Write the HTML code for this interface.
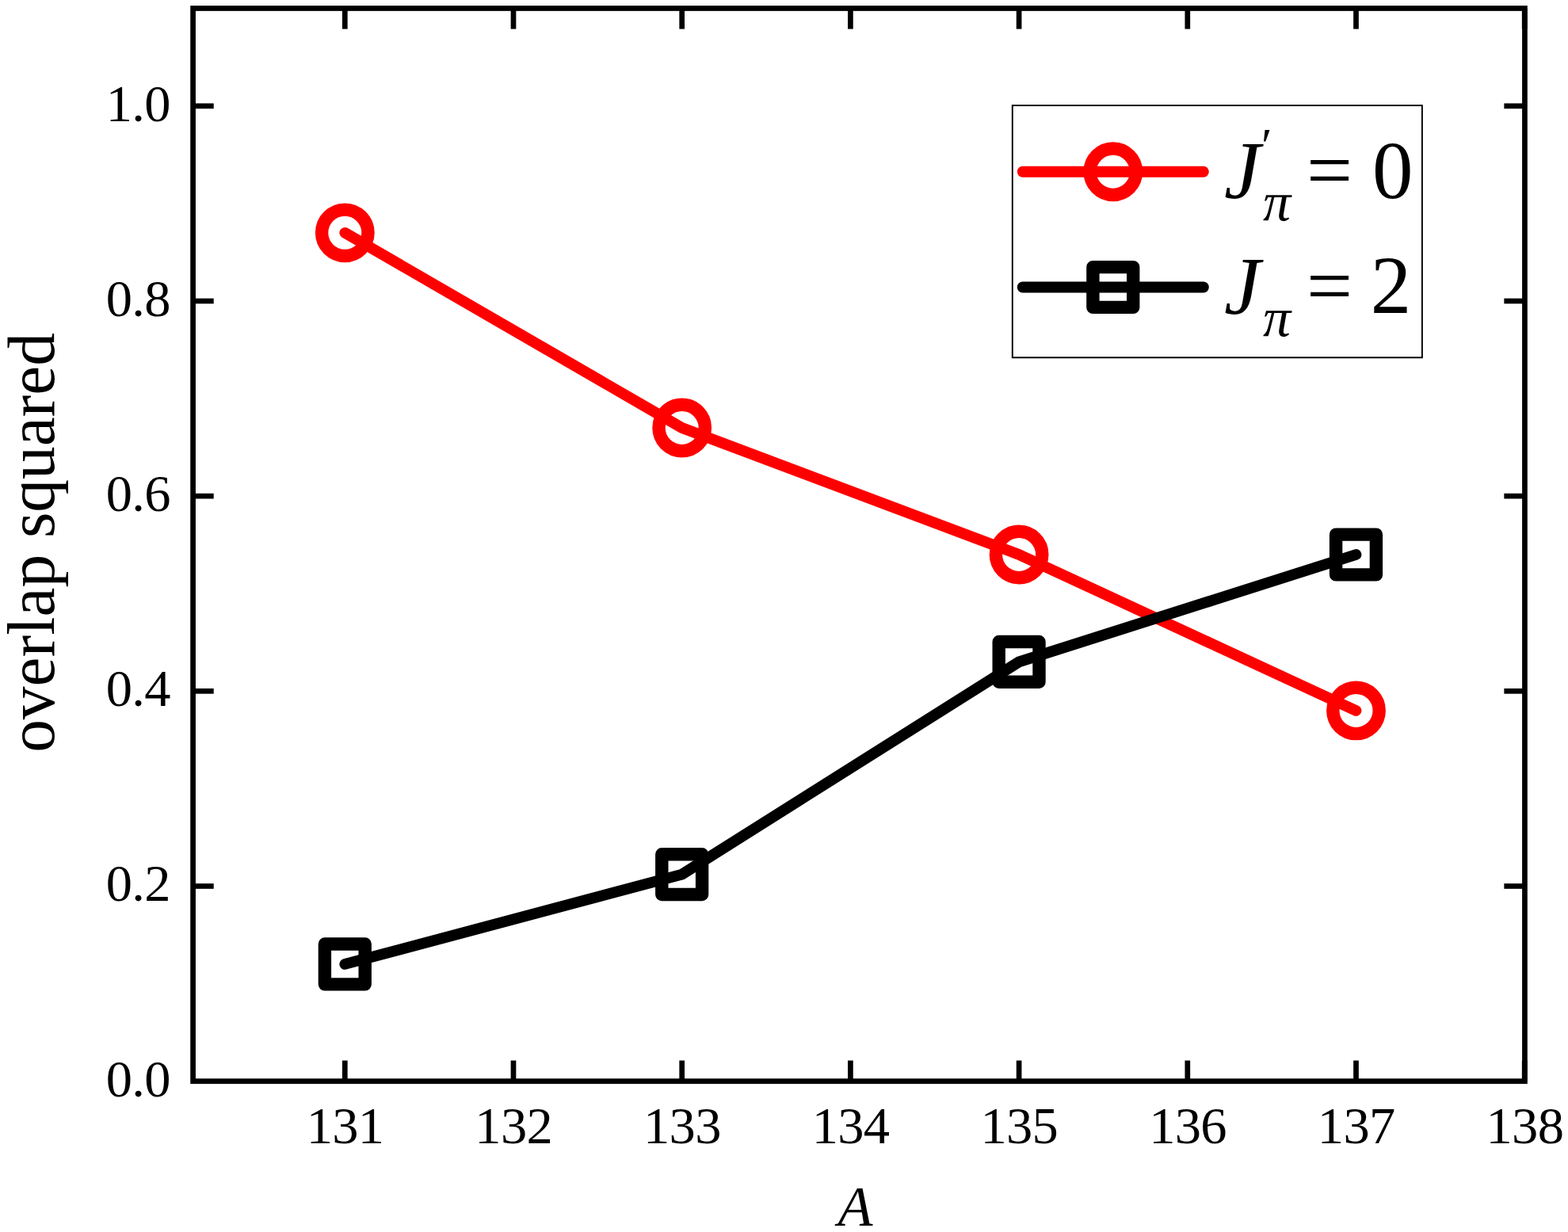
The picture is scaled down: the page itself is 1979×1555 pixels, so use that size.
<!DOCTYPE html>
<html><head><meta charset="utf-8"><title>overlap squared</title>
<style>
html,body{margin:0;padding:0;background:#fff;}
body{width:1979px;height:1555px;overflow:hidden;}
svg{display:block;}
text{font-family:"Liberation Serif",serif;fill:#000;}
.it{font-style:italic;}
</style></head><body>
<svg width="1979" height="1555" viewBox="0 0 1979 1555">
<rect x="0" y="0" width="1979" height="1555" fill="#fff"/>
<rect x="243.60" y="10.50" width="1680.85" height="1354.15" fill="none" stroke="#000" stroke-width="6.70"/>
<g stroke="#000" stroke-width="6.70" fill="none">
<line x1="435.30" y1="1364.65" x2="435.30" y2="1338.55"/><line x1="435.30" y1="10.50" x2="435.30" y2="36.60"/>
<line x1="648.00" y1="1364.65" x2="648.00" y2="1338.55"/><line x1="648.00" y1="10.50" x2="648.00" y2="36.60"/>
<line x1="860.70" y1="1364.65" x2="860.70" y2="1338.55"/><line x1="860.70" y1="10.50" x2="860.70" y2="36.60"/>
<line x1="1073.40" y1="1364.65" x2="1073.40" y2="1338.55"/><line x1="1073.40" y1="10.50" x2="1073.40" y2="36.60"/>
<line x1="1286.10" y1="1364.65" x2="1286.10" y2="1338.55"/><line x1="1286.10" y1="10.50" x2="1286.10" y2="36.60"/>
<line x1="1498.80" y1="1364.65" x2="1498.80" y2="1338.55"/><line x1="1498.80" y1="10.50" x2="1498.80" y2="36.60"/>
<line x1="1711.50" y1="1364.65" x2="1711.50" y2="1338.55"/><line x1="1711.50" y1="10.50" x2="1711.50" y2="36.60"/>
<line x1="1924.20" y1="1364.65" x2="1924.20" y2="1338.55"/><line x1="1924.20" y1="10.50" x2="1924.20" y2="36.60"/>
<line x1="243.60" y1="1118.48" x2="269.70" y2="1118.48"/><line x1="1924.45" y1="1118.48" x2="1898.35" y2="1118.48"/>
<line x1="243.60" y1="872.31" x2="269.70" y2="872.31"/><line x1="1924.45" y1="872.31" x2="1898.35" y2="872.31"/>
<line x1="243.60" y1="626.14" x2="269.70" y2="626.14"/><line x1="1924.45" y1="626.14" x2="1898.35" y2="626.14"/>
<line x1="243.60" y1="379.97" x2="269.70" y2="379.97"/><line x1="1924.45" y1="379.97" x2="1898.35" y2="379.97"/>
<line x1="243.60" y1="133.80" x2="269.70" y2="133.80"/><line x1="1924.45" y1="133.80" x2="1898.35" y2="133.80"/>
</g>
<g font-size="66.5" text-anchor="middle" letter-spacing="-0.7">
<text x="435.50" y="1443.00">131</text><text x="648.20" y="1443.00">132</text><text x="860.90" y="1443.00">133</text><text x="1073.60" y="1443.00">134</text><text x="1286.30" y="1443.00">135</text><text x="1499.00" y="1443.00">136</text><text x="1711.70" y="1443.00">137</text><text x="1924.40" y="1443.00">138</text>
</g>
<g font-size="66.5" text-anchor="end" letter-spacing="-0.7">
<text x="214.80" y="1383.65">0.0</text><text x="214.80" y="1137.48">0.2</text><text x="214.80" y="891.31">0.4</text><text x="214.80" y="645.14">0.6</text><text x="214.80" y="398.97">0.8</text><text x="214.80" y="152.80">1.0</text>
</g>
<text font-size="83" text-anchor="middle" transform="translate(67.9,684.9) rotate(-90) scale(1.004,1.012)">overlap squared</text>
<text class="it" font-size="72" text-anchor="middle" x="1079.6" y="1547.1">A</text>
<g>
<circle cx="435.30" cy="293.81" r="29.20" fill="#fff" stroke="#f00" stroke-width="16.40"/><circle cx="860.70" cy="539.98" r="29.20" fill="#fff" stroke="#f00" stroke-width="16.40"/><circle cx="1286.10" cy="699.99" r="29.20" fill="#fff" stroke="#f00" stroke-width="16.40"/><circle cx="1711.50" cy="896.93" r="29.20" fill="#fff" stroke="#f00" stroke-width="16.40"/>
<polyline points="435.30,293.81 860.70,539.98 1286.10,699.99 1711.50,896.93" fill="none" stroke="#f00" stroke-width="13.80" stroke-linecap="round" stroke-linejoin="round"/>
<rect x="409.90" y="1191.55" width="50.80" height="50.80" fill="#fff" stroke="#000" stroke-width="16.40" stroke-linejoin="round"/><rect x="835.30" y="1078.19" width="50.80" height="50.80" fill="#fff" stroke="#000" stroke-width="16.40" stroke-linejoin="round"/><rect x="1260.70" y="809.98" width="50.80" height="50.80" fill="#fff" stroke="#000" stroke-width="16.40" stroke-linejoin="round"/><rect x="1686.10" y="674.59" width="50.80" height="50.80" fill="#fff" stroke="#000" stroke-width="16.40" stroke-linejoin="round"/>
<polyline points="435.30,1216.95 860.70,1103.59 1286.10,835.38 1711.50,699.99" fill="none" stroke="#000" stroke-width="13.80" stroke-linecap="round" stroke-linejoin="round"/>
</g>
<rect x="1277.80" y="133.10" width="517.10" height="318.20" fill="#fff" stroke="#000" stroke-width="1.9"/>
<circle cx="1404.80" cy="216.75" r="29.20" fill="#fff" stroke="#f00" stroke-width="16.40"/><line x1="1290.70" y1="216.75" x2="1518.90" y2="216.75" stroke="#f00" stroke-width="13.80" stroke-linecap="round"/>
<rect x="1379.40" y="337.10" width="50.80" height="50.80" fill="#fff" stroke="#000" stroke-width="16.40" stroke-linejoin="round"/><line x1="1290.70" y1="362.50" x2="1518.90" y2="362.50" stroke="#000" stroke-width="13.80" stroke-linecap="round"/>
<text class="it" font-size="103" x="1545" y="249.80">J</text><text font-size="62" x="1592" y="204">′</text><text class="it" font-size="70" x="1594" y="278">π</text><text font-size="103" x="1649" y="249.80">=</text><text font-size="103" x="1731.89" y="249.80">0</text>
<text class="it" font-size="103" x="1545" y="395.60">J</text><text class="it" font-size="70" x="1594" y="423.80">π</text><text font-size="103" x="1649" y="395.60">=</text><text font-size="103" x="1729.67" y="395.30">2</text>
</svg>
</body></html>
